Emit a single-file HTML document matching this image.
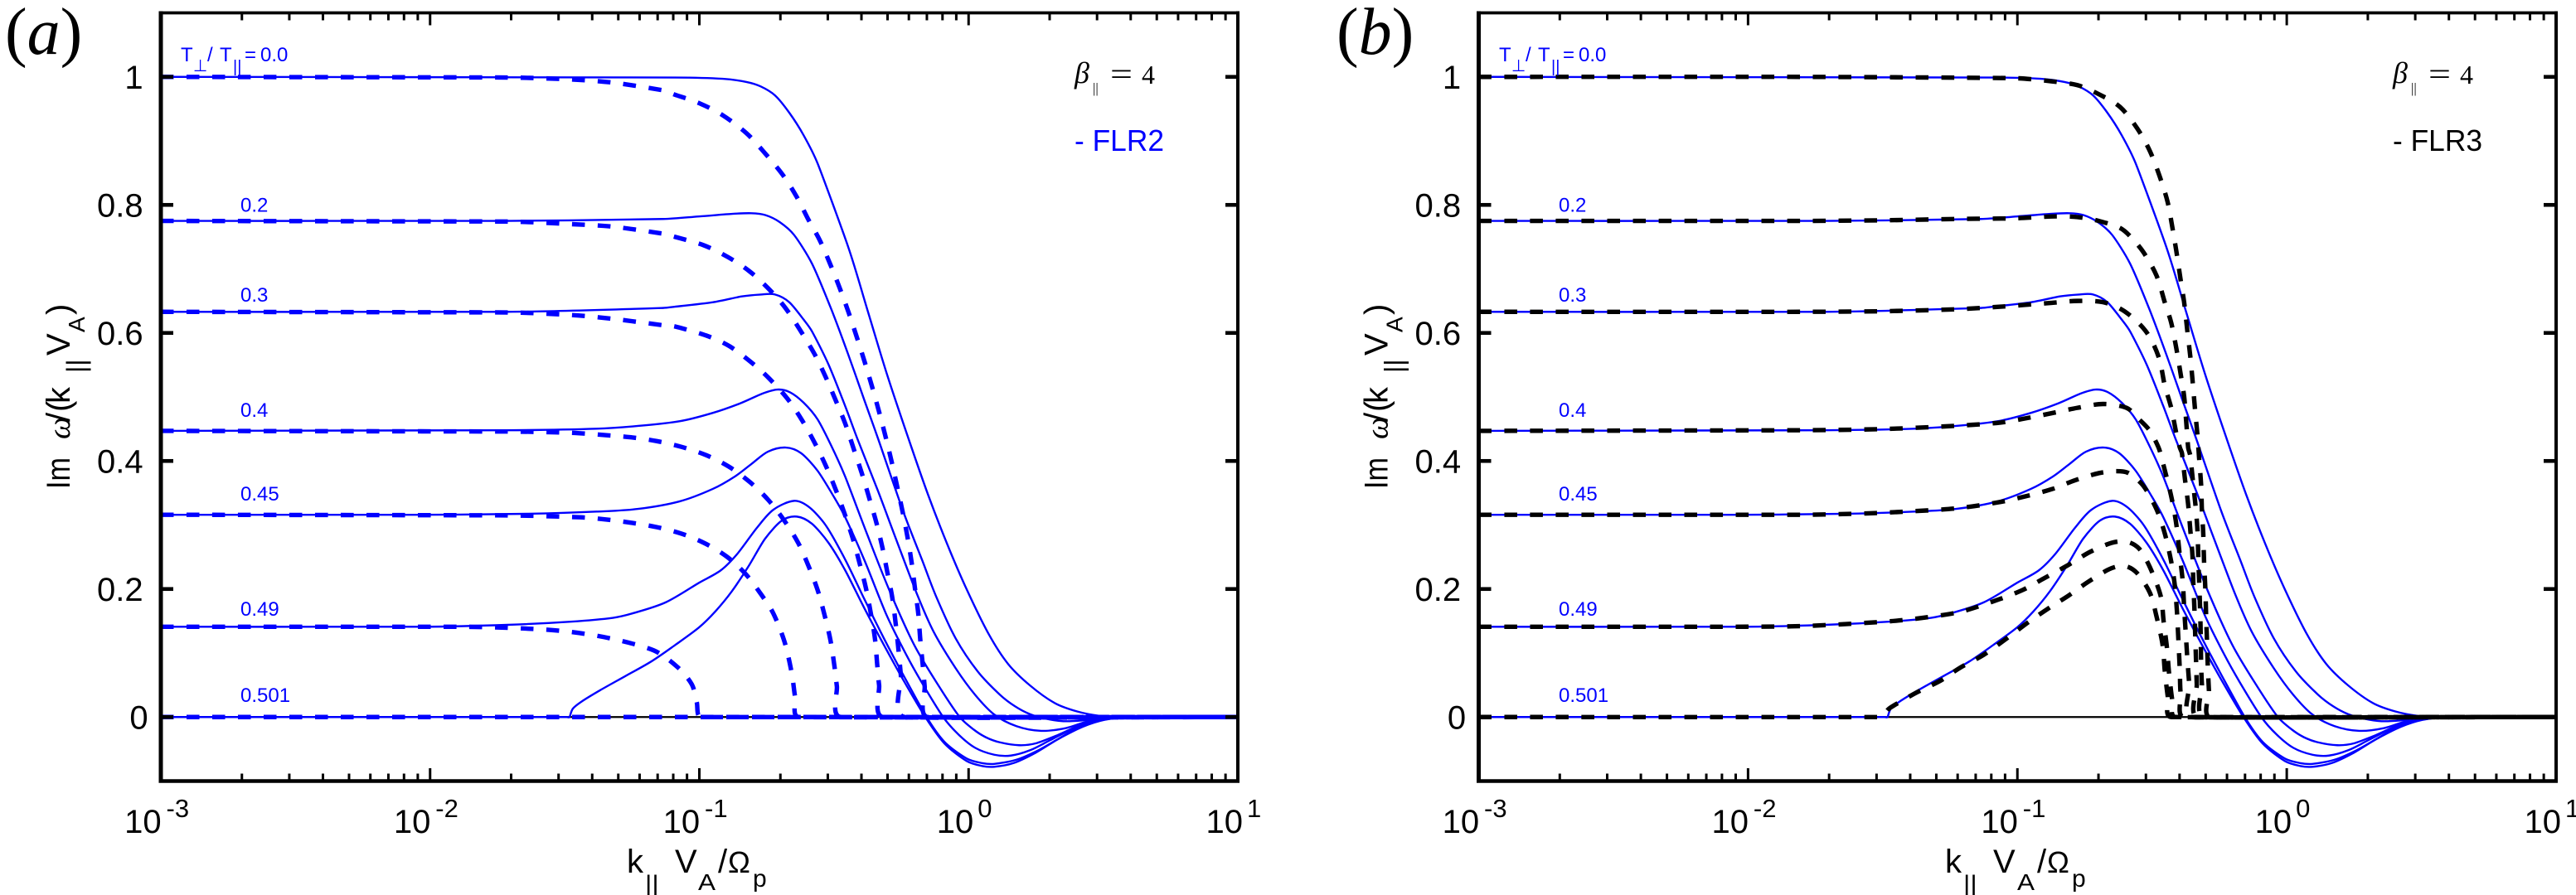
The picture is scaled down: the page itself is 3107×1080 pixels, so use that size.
<!DOCTYPE html>
<html lang="en">
<head>
<meta charset="utf-8">
<title>Im omega versus k parallel, FLR2 and FLR3</title>
<style>
html,body{margin:0;padding:0;background:#fff;}
svg{display:block;}
text{font-family:"Liberation Sans","DejaVu Sans",sans-serif;fill:#000;}
.blue{fill:#0000ff;}
.serif{font-family:"Liberation Serif","DejaVu Serif",serif;}
.ital{font-style:italic;}
.solid{fill:none;stroke:#0000ff;stroke-width:2.4;}
.dashed-blue{fill:none;stroke:#0000ff;stroke-width:5.4;stroke-dasharray:15.5 15.5;}
.dashed-black{fill:none;stroke:#000;stroke-width:5.4;stroke-dasharray:15.5 15.5;}
</style>
</head>
<body>
<svg id="figure" xmlns="http://www.w3.org/2000/svg" width="3107" height="1080" viewBox="0 0 3107 1080">
  <rect x="0" y="0" width="3107" height="1080" fill="#fff"/>

  <g id="panelA">
    <g id="plotA"></g>
    <text class="serif" x="6" y="65" font-size="80">(<tspan class="ital">a</tspan>)</text>
    <g transform="rotate(-90)" font-size="40">
      <text x="-590" y="84" textLength="38" lengthAdjust="spacingAndGlyphs">Im</text>
      <text class="serif ital" x="-530" y="84" font-size="38">ω</text>
      <text x="-509" y="84">/</text>
      <text x="-497" y="84">(</text>
      <text x="-487" y="84">k</text>
      <text x="-450" y="103" font-size="32">||</text>
      <text x="-429" y="84">V</text>
      <text x="-401" y="102" font-size="28">A</text>
      <text x="-380" y="84">)</text>
    </g>
    <g font-size="40">
      <text x="756" y="1053">k</text>
      <text x="778" y="1079" font-size="32">||</text>
      <text x="814" y="1053">V</text>
      <text x="842" y="1074" font-size="28" textLength="21" lengthAdjust="spacingAndGlyphs">A</text>
      <text x="866" y="1053">/</text>
      <text x="878" y="1053" font-size="36">Ω</text>
      <text x="908" y="1070" font-size="30">p</text>
    </g>
    <g font-size="24">
      <text class="blue" x="218" y="74" font-size="24">T</text>
      <text class="blue" x="233" y="86" font-size="20">⊥</text>
      <text class="blue" x="250" y="74">/</text>
      <text class="blue" x="265" y="74">T</text>
      <text class="blue" x="281" y="87" font-size="20">||</text>
      <text class="blue" x="295" y="74">=</text>
      <text class="blue" x="314" y="74">0.0</text>
      <text class="blue" x="290" y="255.5">0.2</text>
      <text class="blue" x="290" y="364">0.3</text>
      <text class="blue" x="290" y="503">0.4</text>
      <text class="blue" x="290" y="604">0.45</text>
      <text class="blue" x="290" y="743">0.49</text>
      <text class="blue" x="290" y="847">0.501</text>
    </g>
    <g>
      <text class="serif ital" x="1296" y="100" font-size="36">β</text>
      <text class="serif" x="1318" y="112" font-size="17">||</text>
      <text class="serif" x="1339" y="102" font-size="38" textLength="27" lengthAdjust="spacingAndGlyphs">=</text>
      <text class="serif" x="1377" y="101" font-size="32">4</text>
    </g>
    <text class="blue" x="1296" y="182" font-size="36" textLength="108" lengthAdjust="spacingAndGlyphs">- FLR2</text>
  </g>

  <g id="panelB">
    <g id="plotB"></g>
    <text class="serif" x="1612" y="65" font-size="80">(<tspan class="ital">b</tspan>)</text>
    <g transform="translate(1589.5,0) rotate(-90)" font-size="40">
      <text x="-590" y="84" textLength="38" lengthAdjust="spacingAndGlyphs">Im</text>
      <text class="serif ital" x="-530" y="84" font-size="38">ω</text>
      <text x="-509" y="84">/</text>
      <text x="-497" y="84">(</text>
      <text x="-487" y="84">k</text>
      <text x="-450" y="103" font-size="32">||</text>
      <text x="-429" y="84">V</text>
      <text x="-401" y="102" font-size="28">A</text>
      <text x="-380" y="84">)</text>
    </g>
    <g font-size="40">
      <text x="2346" y="1053">k</text>
      <text x="2368" y="1079" font-size="32">||</text>
      <text x="2404" y="1053">V</text>
      <text x="2433" y="1074" font-size="28" textLength="21" lengthAdjust="spacingAndGlyphs">A</text>
      <text x="2457" y="1053">/</text>
      <text x="2469" y="1053" font-size="36">Ω</text>
      <text x="2499" y="1070" font-size="30">p</text>
    </g>
    <g font-size="24">
      <text class="blue" x="1808" y="74">T</text>
      <text class="blue" x="1823" y="86" font-size="20">⊥</text>
      <text class="blue" x="1840" y="74">/</text>
      <text class="blue" x="1855" y="74">T</text>
      <text class="blue" x="1871" y="87" font-size="20">||</text>
      <text class="blue" x="1885" y="74">=</text>
      <text class="blue" x="1904" y="74">0.0</text>
      <text class="blue" x="1880" y="255.5">0.2</text>
      <text class="blue" x="1880" y="364">0.3</text>
      <text class="blue" x="1880" y="503">0.4</text>
      <text class="blue" x="1880" y="604">0.45</text>
      <text class="blue" x="1880" y="743">0.49</text>
      <text class="blue" x="1880" y="847">0.501</text>
    </g>
    <g>
      <text class="serif ital" x="2886" y="100" font-size="36">β</text>
      <text class="serif" x="2908" y="112" font-size="17">||</text>
      <text class="serif" x="2929" y="102" font-size="38" textLength="27" lengthAdjust="spacingAndGlyphs">=</text>
      <text class="serif" x="2967" y="101" font-size="32">4</text>
    </g>
    <text x="2886" y="182" font-size="36" textLength="108" lengthAdjust="spacingAndGlyphs">- FLR3</text>
  </g>
</svg>

<script>
// Tick values
const xTickExponents = [-3, -2, -1, 0, 1];
const xMinorMultipliers = [2, 3, 4, 5, 6, 7, 8, 9];
const yTickValues = [0, 0.2, 0.4, 0.6, 0.8, 1];

// Full kinetic (solid) curves: log10(k V_A / Omega_p) and Im omega / (k V_A)
const solidLogK_00 = [-3,-1.09,-0.913,-0.825,-0.772,-0.719,-0.666,-0.613,-0.56,-0.4452,-0.3733,-0.3015,-0.2224,-0.1507,-0.0791,-0.0071,0.0748,0.1468,0.2286,0.3209,0.4031,0.4853,0.566,1];
const solidIm_00 =   [1,0.999,0.997,0.992,0.985,0.971,0.944,0.909,0.864,0.7319,0.6325,0.5333,0.4339,0.3475,0.2698,0.1995,0.1295,0.0829,0.0492,0.0216,0.0087,0.0019,0,0];

const solidLogK_02 = [-3,-1.713,-1.135,-1.0015,-0.878,-0.807,-0.754,-0.701,-0.648,-0.5815,-0.5098,-0.4483,-0.3867,-0.3354,-0.2431,-0.1714,-0.12,-0.0483,0.0339,0.116,0.1723,0.2277,0.2862,0.3517,0.4237,0.4954,0.5877,1];
const solidIm_02 =   [0.775,0.775,0.778,0.782,0.786,0.787,0.784,0.773,0.753,0.7082,0.6369,0.5678,0.4944,0.4339,0.3216,0.2439,0.1878,0.1231,0.0712,0.035,0.0168,0.0045,-0.0026,-0.0065,-0.0052,-0.0013,0,0];

const solidLogK_03 = [-3,-1.713,-1.135,-1.09,-0.949,-0.843,-0.772,-0.719,-0.666,-0.613,-0.5815,-0.52,-0.4584,-0.4123,-0.3354,-0.2738,-0.1917,-0.1301,-0.0483,0.0237,0.0954,0.1776,0.2699,0.3622,0.4441,0.5262,0.6185,1];
const solidIm_03 =   [0.633,0.633,0.639,0.641,0.648,0.657,0.66,0.66,0.648,0.621,0.6024,0.5505,0.4858,0.4339,0.352,0.2828,0.1921,0.1334,0.0764,0.035,0.0039,-0.0142,-0.0216,-0.0172,-0.0065,-0.0009,0,0];

const solidLogK_04 = [-3,-1.713,-1.3815,-1.2276,-1.0738,-0.9507,-0.8483,-0.7661,-0.7098,-0.6637,-0.6123,-0.5609,-0.5098,-0.4584,-0.3763,-0.2944,-0.2021,-0.1098,-0.0329,0.0185,0.0646,0.116,0.1877,0.2493,0.3314,0.4133,0.5056,0.6339,1];
const solidIm_04 =   [0.447,0.448,0.4504,0.4547,0.462,0.475,0.49,0.5052,0.5116,0.5074,0.4909,0.465,0.4236,0.3756,0.285,0.1982,0.1127,0.0479,0,-0.0194,-0.0317,-0.0395,-0.044,-0.0411,-0.0281,-0.013,-0.0022,0,0];

const solidLogK_045 = [-3,-2.027,-1.635,-1.3815,-1.2276,-1.0738,-0.9507,-0.8686,-0.8071,-0.7455,-0.6791,-0.6224,-0.5609,-0.4994,-0.4584,-0.3867,-0.3046,-0.2329,-0.1763,-0.0944,-0.0378,0.0237,0.0954,0.1569,0.2286,0.3006,0.3825,0.4646,0.5569,0.6492,1];
const solidIm_045 =   [0.316,0.316,0.3175,0.3209,0.3251,0.3368,0.3562,0.3756,0.3951,0.4145,0.421,0.4123,0.3847,0.3433,0.3122,0.2448,0.1593,0.0984,0.0557,0,-0.0272,-0.0479,-0.0589,-0.0602,-0.0518,-0.0367,-0.0194,-0.0065,-0.0009,0,0];

const solidLogK_049 = [-3,-2.027,-1.713,-1.478,-1.321,-1.2483,-1.1252,-1.0021,-0.92,-0.8584,-0.7867,-0.7252,-0.6483,-0.5917,-0.5301,-0.4584,-0.3867,-0.3147,-0.2431,-0.156,-0.0892,-0.0071,0.0493,0.0954,0.1776,0.2594,0.3416,0.4237,0.5056,0.6,1];
const solidIm_049 =   [0.141,0.141,0.144,0.149,0.155,0.1619,0.1791,0.2095,0.2293,0.2552,0.2953,0.3238,0.3377,0.3277,0.2992,0.2461,0.1839,0.1231,0.0661,0,-0.0389,-0.0648,-0.0719,-0.0732,-0.0667,-0.0518,-0.0324,-0.0152,-0.0043,0,0];
const solidLogK_0501 = [-3,-1.493,-1.482,-1.47,-1.438,-1.368,-1.2738,-1.1785,-1.0892,-1.0015,-0.9406,-0.8791,-0.8175,-0.756,-0.6944,-0.6379,-0.5815,-0.52,-0.4584,-0.3867,-0.3147,-0.2431,-0.1609,-0.0892,-0.0071,0.0493,0.0954,0.1671,0.2493,0.3314,0.4133,0.5056,0.62,1];
const solidIm_0501 =   [0,0,0,0.013,0.024,0.042,0.0642,0.0868,0.1127,0.1399,0.165,0.1965,0.2354,0.2785,0.3066,0.3131,0.3018,0.272,0.2293,0.1697,0.1127,0.0583,0,-0.0415,-0.0687,-0.0764,-0.0777,-0.0719,-0.0557,-0.0346,-0.0159,-0.0039,0,0];

// FLR2 (dashed blue, panel a)
const flr2LogK_00 = [-3,-1.713,-1.478,-1.321,-1.135,-1.09,-1.001,-0.913,-0.825,-0.763,-0.692,-0.639,-0.595,-0.5529,-0.5147,-0.4791,-0.4461,-0.4154,-0.3867,-0.3591,-0.3332,-0.3098,-0.2861,-0.2655,-0.2452,-0.2267,-0.2114,-0.1991,-0.1867,-0.1794,-0.1701,-0.1631,-0.1507,1];
const flr2Im_00 =   [1,0.999,0.996,0.991,0.979,0.972,0.959,0.94,0.912,0.884,0.848,0.813,0.777,0.7449,0.7082,0.6706,0.6325,0.5937,0.5557,0.5169,0.478,0.4404,0.3994,0.3605,0.3209,0.2807,0.2409,0.2008,0.161,0.1209,0.0807,0.0479,0,0];

const flr2LogK_02 = [-3,-1.713,-1.478,-1.321,-1.135,-1.09,-0.984,-0.896,-0.816,-0.745,-0.684,-0.631,-0.5732,-0.5323,-0.4944,-0.4584,-0.4277,-0.3969,-0.3692,-0.3424,-0.32,-0.3015,-0.2831,-0.2707,-0.2606,-0.2514,-0.2369,1];
const flr2Im_02 =   [0.775,0.774,0.77,0.766,0.755,0.75,0.737,0.719,0.697,0.67,0.641,0.608,0.5678,0.5325,0.4955,0.4586,0.4201,0.3812,0.3424,0.3035,0.2646,0.2254,0.1856,0.1455,0.1058,0.0648,0,0];

const flr2LogK_03 = [-3,-1.713,-1.478,-1.321,-1.135,-1.09,-0.975,-0.887,-0.7969,-0.7406,-0.6738,-0.6206,-0.5732,-0.5307,-0.4944,-0.4615,-0.4307,-0.4052,-0.3815,-0.3631,-0.3477,-0.3394,-0.3323,-0.3169,1];
const flr2Im_03 =   [0.633,0.632,0.628,0.622,0.612,0.61,0.596,0.579,0.5505,0.5289,0.4978,0.465,0.4296,0.3929,0.3562,0.3187,0.2798,0.2409,0.2017,0.1619,0.1221,0.082,0.0496,0,0];

const flr2LogK_04 = [-3,-1.713,-1.478,-1.3492,-1.2532,-1.1578,-1.0655,-0.9744,-0.8892,-0.8123,-0.7437,-0.684,-0.6329,-0.5947,-0.5609,-0.5344,-0.5129,-0.4984,-0.4892,-0.4751,1];
const flr2Im_04 =   [0.447,0.446,0.444,0.4404,0.4369,0.431,0.4219,0.409,0.3908,0.367,0.339,0.3066,0.272,0.2361,0.1986,0.1584,0.1196,0.0799,0.0479,0,0];

const flr2LogK_045 = [-3,-1.713,-1.443,-1.3486,-1.2532,-1.1578,-1.0655,-0.9784,-0.8975,-0.8277,-0.7692,-0.7253,-0.684,-0.657,-0.645,-0.631,1];
const flr2Im_045 =   [0.316,0.315,0.312,0.3087,0.3035,0.2966,0.2863,0.2711,0.2504,0.2232,0.1908,0.1619,0.118,0.069,0.033,0,0];

const flr2LogK_049 = [-3,-1.87,-1.635,-1.478,-1.321,-1.169,-1.081,-1.028,-1.01,-0.993,1];
const flr2Im_049 =   [0.141,0.141,0.138,0.133,0.122,0.104,0.078,0.051,0.024,0,0];

const flr2LogK_0501 = [-3,1];
const flr2Im_0501 =   [0,0];

// FLR3 (dashed black, panel b)
const flr3LogK_00 = [-3,-1.804,-1.015,-0.872,-0.777,-0.698,-0.619,-0.556,-0.508,-0.468,-0.442,-0.426,-0.41,-0.394,-0.381,-0.369,-0.358,-0.35,-0.34,-0.331,-0.326,-0.318,-0.315,-0.31,-0.307,-0.302,-0.299,-0.296,-0.293,-0.289,-0.283,1];
const flr3Im_00 =   [1,1,0.998,0.993,0.987,0.973,0.953,0.92,0.884,0.84,0.804,0.768,0.728,0.683,0.648,0.603,0.563,0.527,0.478,0.438,0.408,0.363,0.323,0.287,0.243,0.198,0.153,0.118,0.078,0.042,0,0];

const flr3LogK_02 = [-3,-1.804,-1.49,-1.226,-1.015,-0.872,-0.777,-0.698,-0.619,-0.579,-0.532,-0.484,-0.453,-0.429,-0.41,-0.394,-0.381,-0.373,-0.366,-0.358,-0.347,-0.337,-0.331,-0.328,-0.324,-0.321,-0.319,-0.318,-0.315,-0.305,1];
const flr3Im_02 =   [0.775,0.775,0.776,0.778,0.779,0.782,0.781,0.775,0.764,0.75,0.726,0.69,0.648,0.616,0.576,0.536,0.501,0.46,0.421,0.408,0.363,0.323,0.287,0.243,0.198,0.158,0.118,0.086,0.051,0,0];

const flr3LogK_03 = [-3,-1.804,-1.49,-1.226,-1.063,-0.872,-0.777,-0.682,-0.603,-0.524,-0.476,-0.453,-0.429,-0.41,-0.397,-0.389,-0.378,-0.366,-0.358,-0.35,-0.347,-0.343,-0.34,-0.337,-0.334,-0.328,1];
const flr3Im_03 =   [0.633,0.633,0.634,0.637,0.641,0.647,0.65,0.648,0.634,0.603,0.563,0.518,0.483,0.443,0.421,0.412,0.372,0.332,0.292,0.252,0.211,0.171,0.131,0.091,0.051,0,0];

const flr3LogK_04 = [-3,-1.804,-1.49,-1.226,-1.063,-0.952,-0.857,-0.777,-0.682,-0.595,-0.548,-0.508,-0.476,-0.461,-0.429,-0.41,-0.397,-0.386,-0.381,-0.375,-0.369,-0.362,-0.353,1];
const flr3Im_04 =   [0.447,0.448,0.45,0.455,0.46,0.468,0.476,0.483,0.489,0.483,0.465,0.447,0.421,0.399,0.345,0.301,0.252,0.211,0.171,0.131,0.091,0.051,0,0];

const flr3LogK_045 = [-3,-1.804,-1.568,-1.411,-1.226,-1.063,-0.968,-0.872,-0.785,-0.698,-0.635,-0.587,-0.532,-0.484,-0.453,-0.429,-0.416,-0.408,-0.402,-0.397,-0.394,-0.381,1];
const flr3Im_045 =   [0.316,0.316,0.318,0.321,0.326,0.336,0.345,0.356,0.37,0.381,0.384,0.381,0.361,0.325,0.287,0.243,0.207,0.167,0.118,0.073,0.037,0,0];

const flr3LogK_049 = [-3,-2.118,-1.804,-1.568,-1.411,-1.226,-1.094,-0.983,-0.904,-0.809,-0.73,-0.651,-0.595,-0.548,-0.508,-0.468,-0.457,-0.445,-0.437,-0.426,-0.413,1];
const flr3Im_049 =   [0.141,0.141,0.142,0.147,0.152,0.163,0.18,0.198,0.216,0.238,0.258,0.272,0.274,0.263,0.234,0.189,0.149,0.109,0.069,0.029,0,0];

const flr3LogK_0501 = [-3,-1.513,-1.474,-1.38,-1.285,-1.213,-1.126,-1.039,-0.96,-0.88,-0.809,-0.738,-0.659,-0.603,-0.556,-0.508,-0.484,-0.461,-0.453,-0.442,-0.429,1];
const flr3Im_0501 =   [0,0,0.014,0.037,0.057,0.077,0.097,0.123,0.148,0.171,0.19,0.211,0.231,0.236,0.225,0.194,0.158,0.113,0.073,0.033,0,0];

const seriesRatios = ['00', '02', '03', '04', '045', '049', '0501'];
const solidLogK = [solidLogK_00, solidLogK_02, solidLogK_03, solidLogK_04, solidLogK_045, solidLogK_049, solidLogK_0501];
const solidIm = [solidIm_00, solidIm_02, solidIm_03, solidIm_04, solidIm_045, solidIm_049, solidIm_0501];
const flr2LogK = [flr2LogK_00, flr2LogK_02, flr2LogK_03, flr2LogK_04, flr2LogK_045, flr2LogK_049, flr2LogK_0501];
const flr2Im = [flr2Im_00, flr2Im_02, flr2Im_03, flr2Im_04, flr2Im_045, flr2Im_049, flr2Im_0501];
const flr3LogK = [flr3LogK_00, flr3LogK_02, flr3LogK_03, flr3LogK_04, flr3LogK_045, flr3LogK_049, flr3LogK_0501];
const flr3Im = [flr3Im_00, flr3Im_02, flr3Im_03, flr3Im_04, flr3Im_045, flr3Im_049, flr3Im_0501];

const NS = 'http://www.w3.org/2000/svg';
const PLOT_TOP = 15.5, PLOT_BOTTOM = 942.5;
const X_MIN = -3, X_MAX = 1, Y_MIN = -0.1, Y_MAX = 1.1;

function yScale(v) {
  return PLOT_BOTTOM + (v - Y_MIN) * (PLOT_TOP - PLOT_BOTTOM) / (Y_MAX - Y_MIN);
}

function makeXScale(left, right) {
  return function (logK) {
    return left + (logK - X_MIN) * (right - left) / (X_MAX - X_MIN);
  };
}

function curvePath(logKs, values, xScale) {
  const pts = logKs.map(function (k, i) { return [xScale(k), yScale(values[i])]; });
  let d = 'M' + pts[0][0].toFixed(2) + ' ' + pts[0][1].toFixed(2);
  const tangent = function (i, len) {
    const a = pts[Math.max(i - 1, 0)], b = pts[Math.min(i + 1, pts.length - 1)], c = pts[i];
    const dAB = Math.hypot(b[0] - a[0], b[1] - a[1]) || 1;
    const lenPrev = Math.hypot(c[0] - a[0], c[1] - a[1]);
    const lenNext = Math.hypot(b[0] - c[0], b[1] - c[1]);
    const lim = Math.min(lenPrev || lenNext, lenNext || lenPrev, len);
    return [(b[0] - a[0]) / dAB * lim / 3, (b[1] - a[1]) / dAB * lim / 3];
  };
  for (let i = 0; i < pts.length - 1; i++) {
    const p = pts[i], q = pts[i + 1];
    const seg = Math.hypot(q[0] - p[0], q[1] - p[1]);
    const t0 = tangent(i, seg), t1 = tangent(i + 1, seg);
    d += 'C' + (p[0] + t0[0]).toFixed(2) + ' ' + (p[1] + t0[1]).toFixed(2) + ' ' +
         (q[0] - t1[0]).toFixed(2) + ' ' + (q[1] - t1[1]).toFixed(2) + ' ' +
         q[0].toFixed(2) + ' ' + q[1].toFixed(2);
  }
  return d;
}

function drawLine(parent, x1, y1, x2, y2, width, color) {
  const el = document.createElementNS(NS, 'line');
  el.setAttribute('x1', x1);
  el.setAttribute('y1', y1);
  el.setAttribute('x2', x2);
  el.setAttribute('y2', y2);
  el.setAttribute('stroke', color);
  el.setAttribute('stroke-width', width);
  parent.appendChild(el);
  return el;
}

function drawPanel(parent, left, right, dashLogK, dashIm, dashClass, dashName) {
  const xScale = makeXScale(left, right);

  // zero reference line
  const zero = drawLine(parent, left, yScale(0), right, yScale(0), 2.2, '#000');
  
  

  // solid curves
  seriesRatios.forEach(function (ratio, i) {
    const path = document.createElementNS(NS, 'path');
    path.setAttribute('d', curvePath(solidLogK[i], solidIm[i], xScale));
    path.setAttribute('class', 'solid');
    
    
    parent.appendChild(path);
  });

  // dashed curves
  seriesRatios.forEach(function (ratio, i) {
    const path = document.createElementNS(NS, 'path');
    path.setAttribute('d', curvePath(dashLogK[i], dashIm[i], xScale));
    path.setAttribute('class', dashClass);
    
    
    parent.appendChild(path);
  });

  // x ticks
  xTickExponents.forEach(function (exp, i) {
    const tx = xScale(exp);
    if (i > 0 && i < xTickExponents.length - 1) {
      const b = drawLine(parent, tx, PLOT_BOTTOM, tx, PLOT_BOTTOM - 15.5, 3, '#000');
      
      
      const t = drawLine(parent, tx, PLOT_TOP, tx, PLOT_TOP + 15, 3, '#000');
      
      
    }
    if (i < xTickExponents.length - 1) {
      xMinorMultipliers.forEach(function (m) {
        const mx = xScale(exp + Math.log10(m));
        const mb = drawLine(parent, mx, PLOT_BOTTOM, mx, PLOT_BOTTOM - 9, 3, '#000');
        
        
        const mt = drawLine(parent, mx, PLOT_TOP, mx, PLOT_TOP + 9, 3, '#000');
        
        
      });
    }
    const base = document.createElementNS(NS, 'text');
    base.textContent = '10';
    base.setAttribute('x', tx + (exp < 0 ? 0.6 : 6));
    base.setAttribute('y', 1005);
    base.setAttribute('font-size', 40);
    base.setAttribute('text-anchor', 'end');
    
    
    parent.appendChild(base);
    const sup = document.createElementNS(NS, 'text');
    sup.textContent = String(exp);
    sup.setAttribute('x', tx + (exp < 0 ? 6.5 : 11));
    sup.setAttribute('y', 986);
    sup.setAttribute('font-size', 31);
    
    
    parent.appendChild(sup);
  });

  // y ticks
  yTickValues.forEach(function (v) {
    const ty = yScale(v);
    const l = drawLine(parent, left, ty, left + 15, ty, 4.6, '#000');
    
    
    const r = drawLine(parent, right, ty, right - 15, ty, 4.6, '#000');
    
    
    const label = document.createElementNS(NS, 'text');
    label.textContent = (v === 0 || v === 1) ? String(v) : v.toFixed(1);
    label.setAttribute('x', left - (v === 0 ? 15.4 : 21.4));
    label.setAttribute('y', ty + 14);
    label.setAttribute('font-size', 40);
    label.setAttribute('text-anchor', 'end');
    
    
    parent.appendChild(label);
  });

  // frame
  const fTop = drawLine(parent, left - 2.5, PLOT_TOP, right + 2, PLOT_TOP, 3.8, '#000');
  
  
  const fBottom = drawLine(parent, left - 2.5, PLOT_BOTTOM, right + 2, PLOT_BOTTOM, 4.4, '#000');
  
  
  const fLeft = drawLine(parent, left, PLOT_TOP - 2, left, PLOT_BOTTOM + 2, 5, '#000');
  
  
  const fRight = drawLine(parent, right, PLOT_TOP - 2, right, PLOT_BOTTOM + 2, 4, '#000');
  
  
}

drawPanel(document.getElementById('plotA'), 194, 1493, flr2LogK, flr2Im, 'dashed-blue', 'flr2');
drawPanel(document.getElementById('plotB'), 1783.5, 3083, flr3LogK, flr3Im, 'dashed-black', 'flr3');
</script>
</body>
</html>
